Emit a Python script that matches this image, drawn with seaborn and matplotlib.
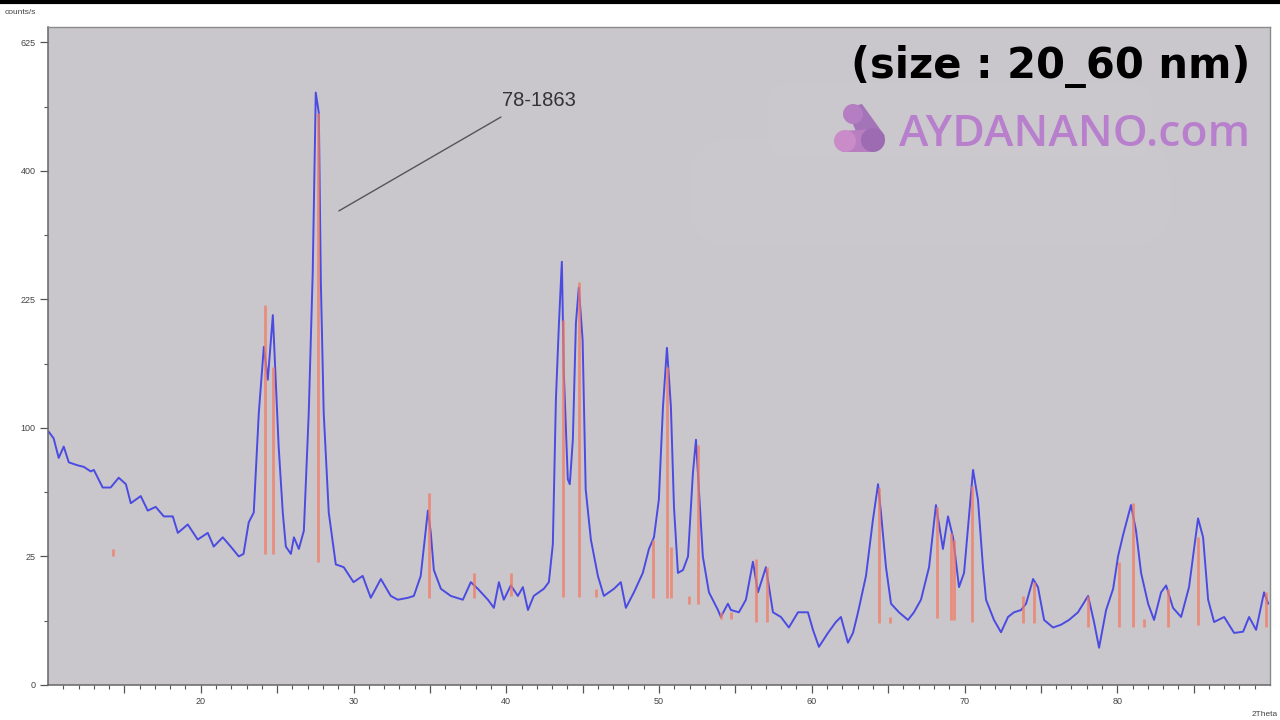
import numpy as np
import pandas as pd
import matplotlib
matplotlib.use("Agg")
import matplotlib.pyplot as plt
import seaborn as sns
from matplotlib.patches import Circle, Polygon, FancyBboxPatch
from matplotlib.lines import Line2D

# ---------------- data ----------------
theta = [10.05, 10.37, 10.7, 11.03, 11.36, 11.94, 12.34, 12.8, 13.0, 13.58, 14.1, 14.63, 15.1, 15.42,
         16.07, 16.53, 17.05, 17.58, 18.17, 18.5, 19.15, 19.8, 20.46, 20.85, 21.44, 21.96, 22.49, 22.8,
         23.14, 23.47, 23.8, 24.13, 24.39, 24.72, 24.91, 25.1, 25.37, 25.57, 25.9, 26.1, 26.42, 26.75,
         27.07, 27.33, 27.53, 27.73, 27.86, 28.05, 28.38, 28.84, 29.36, 30.0, 30.6, 31.13, 31.79, 32.44,
         32.9, 33.56, 33.95, 34.4, 34.87, 35.06, 35.26, 35.72, 36.37, 37.16, 37.68, 38.14, 38.8, 39.19,
         39.52, 39.84, 40.3, 40.76, 41.09, 41.42, 41.8, 42.46, 42.79, 43.05, 43.25, 43.45, 43.64, 43.77,
         44.03, 44.16, 44.36, 44.56, 44.75, 45.0, 45.2, 45.54, 46.0, 46.39, 47.05, 47.5, 47.83, 48.36,
         48.94, 49.34, 49.67, 49.99, 50.26, 50.52, 50.78, 50.98, 51.24, 51.57, 51.9, 52.22, 52.42, 52.61,
         52.87, 53.27, 53.86, 54.05, 54.51, 54.71, 55.23, 55.69, 56.15, 56.48, 57.0, 57.46, 57.98, 58.5,
         59.1, 59.75, 60.08, 60.47, 61.06, 61.58, 61.91, 62.37, 62.7, 63.03, 63.55, 64.0, 64.34, 64.53,
         64.86, 65.19, 65.71, 66.3, 66.69, 67.15, 67.68, 68.13, 68.59, 68.92, 69.25, 69.64, 69.97, 70.56,
         70.88, 71.21, 71.41, 71.93, 72.39, 72.85, 73.24, 73.7, 74.03, 74.49, 74.81, 75.21, 75.8, 76.32,
         76.84, 77.43, 78.09, 78.48, 78.81, 79.27, 79.73, 80.05, 80.38, 80.9, 81.23, 81.56, 82.02, 82.41,
         82.87, 83.2, 83.65, 84.18, 84.7, 85.29, 85.62, 85.95, 86.34, 87.0, 87.65, 88.24, 88.63, 89.09,
         89.61, 89.88]
counts = [97, 92, 78, 86, 75, 73, 72, 69, 70, 59, 59, 65, 61, 50,
          54, 46, 48, 43, 43, 35, 39, 32, 35, 29, 33, 29, 25, 26,
          40, 45, 112, 173, 141, 207, 141, 86, 45, 29, 26, 33, 28, 36,
          112, 257, 531, 495, 248, 112, 45, 22, 21, 16, 18, 11.5, 17, 12,
          11, 11.5, 12, 18, 46, 35, 20, 14, 12, 11, 16, 14, 11, 9,
          16, 11, 15, 12, 14.5, 8.5, 12, 14, 16, 30, 123, 198, 271, 147,
          64, 61, 91, 198, 239, 180, 58, 32, 18, 12, 14, 16, 9, 13,
          19, 28, 33, 52, 117, 172, 117, 48, 19, 20, 25, 68, 91, 58,
          25, 13, 8.5, 7, 10, 8.5, 8, 11, 23, 13, 21, 8, 7, 5,
          8, 8, 4.6, 2.2, 4.1, 6, 7, 2.7, 4.1, 8, 18, 41, 61, 45,
          21, 10, 8, 6.4, 8, 11, 21, 49, 28, 43, 33, 14.5, 19, 70,
          52, 21, 11, 6.4, 4.2, 7, 8, 8.5, 10, 17, 14.5, 6.4, 5, 5.5,
          6.4, 8, 12, 6, 2.1, 8.5, 14, 25, 34, 49, 36, 19, 10, 6.4,
          13, 15, 9, 7, 14.5, 42, 33, 11, 6, 7, 4.1, 4.3, 7, 4.6,
          13, 10]

# reference card 78-1863 sticks
stick_pos = [14.24, 24.2, 24.75, 27.66, 34.93, 37.9, 40.3, 43.7, 44.75, 45.9, 49.6, 50.5, 50.8,
             51.95, 52.55, 54.05, 54.7, 56.35, 57.1, 64.4, 65.1, 68.2, 69.1, 69.3, 70.5, 73.83,
             74.55, 78.1, 80.1, 81.0, 81.75, 83.3, 85.3, 89.75]
stick_base = [25, 26, 26, 23, 11.5, 11.5, 12, 11.7, 11.7, 11.7, 11.5, 11.5, 11.5,
              10, 10, 6.5, 6.5, 6, 6, 5.8, 5.8, 6.8, 6.4, 6.4, 6, 5.8,
              5.8, 5.1, 5.1, 5.1, 5.1, 5.1, 5.5, 5.1]
stick_top = [28, 219, 153, 495, 56, 19, 19, 202, 246, 14, 32, 153, 29,
             12, 87, 8, 8, 24, 21, 59, 7, 48, 35, 32, 60, 12,
             16, 12, 23, 50, 6.5, 14, 33, 13]

x_ticks = [20, 30, 40, 50, 60, 70, 80]
y_ticks = [0, 25, 100, 225, 400, 625]
card_label = "78-1863"

# ---------------- style ----------------
sns.set_theme(style="ticks")
plt.rcParams['font.family'] = ['Liberation Sans', 'DejaVu Sans']

fig = plt.figure(figsize=(12.8, 7.2), dpi=100, facecolor="white")
ax = fig.add_axes([48/1280, 35/720, (1270-48)/1280, (685-27)/720])
ax.set_facecolor("#c9c7cc")

ax.set_yscale("function", functions=(lambda v: np.sqrt(np.clip(v, 0, None)), lambda v: np.square(v)))

df = pd.DataFrame({"theta": theta, "counts": counts})
sns.lineplot(data=df, x="theta", y="counts", ax=ax, color="#4b4be2", lw=1.4,
             estimator=None, sort=False, zorder=2)
ax.vlines(stick_pos, stick_base, stick_top, colors="#f27a62", lw=2.0, alpha=0.75, zorder=3)

ax.set_xlim(10, 90)
ax.set_ylim(0, 655)

# annotation for reference card
ax.plot([29.04, 39.65], [340, 488], color="#555555", lw=1.0, zorder=4)
ax.text(39.75, 516, card_label, fontsize=14.5, color="#333333", va="center", ha="left")

ax.set_xticks(list(range(15, 90, 5)))
ax.set_xticklabels([str(t) if t in x_ticks else "" for t in range(15, 90, 5)])
ax.set_xticks(list(range(11, 90)), minor=True)
ax.set_yticks(y_ticks)
ax.set_yticklabels([str(v) for v in y_ticks])
ax.set_yticks([6.25, 56.25, 156.25, 306.25, 506.25], minor=True)
ax.tick_params(axis="both", which="major", direction="out", length=6, width=0.9,
               color="#555555", labelsize=6.5, labelcolor="#444444", pad=3)
ax.tick_params(axis="both", which="minor", direction="out", length=3, width=0.8, color="#555555")
ax.set_xlabel("")
ax.set_ylabel("")
for s in ["left", "bottom"]:
    ax.spines[s].set_color("#666666")
    ax.spines[s].set_linewidth(1.1)
for s in ["top", "right"]:
    ax.spines[s].set_visible(True)
    ax.spines[s].set_color("#8a8a8a")
    ax.spines[s].set_linewidth(1.0)

fig.text(5/1280, 1 - 12/720, "counts/s", fontsize=6, color="#444444", va="center", ha="left")
fig.text(1278/1280, 1 - 715/720, "2Theta", fontsize=6, color="#444444", va="center", ha="right")
fig.add_artist(Line2D([0, 1], [0.997, 0.997], color="black", lw=3, transform=fig.transFigure))

# ---------------- overlay: watermark ----------------
ov = fig.add_axes([0, 0, 1, 1], zorder=5)
ov.set_xlim(0, 1280)
ov.set_ylim(720, 0)
ov.axis("off")
ov.patch.set_alpha(0)

ov.add_patch(FancyBboxPatch((700, 150), 460, 85, boxstyle="round,pad=10,rounding_size=40",
                            fc="white", ec="none", alpha=0.035))
ov.add_patch(FancyBboxPatch((775, 90), 370, 60, boxstyle="round,pad=8,rounding_size=30",
                            fc="white", ec="none", alpha=0.03))

ov.text(1250, 67, "(size : 20_60 nm)", fontsize=30, fontweight="bold", color="black",
        ha="right", va="center", family=["DejaVu Sans"])

# logo icon
ov.add_patch(Polygon([[846, 108], [862, 104], [885, 136], [864, 150]], closed=True,
                     fc="#a474b8", ec="none"))
ov.add_patch(Polygon([[842, 131], [873, 129], [873, 152], [842, 152]], closed=True,
                     fc="#b77fc0", ec="none"))
ov.add_patch(Circle((853, 114), 10, fc="#b57dc2", ec="none"))
ov.add_patch(Circle((845, 141), 11, fc="#c98cc9", ec="none"))
ov.add_patch(Circle((873, 140), 12, fc="#9c6bb2", ec="none"))

ov.text(1250, 135, "AYDANANO.com", fontsize=32, color="#b880cc", ha="right", va="center",
        family=["Open Sans", "DejaVu Sans"], fontweight="semibold")

fig.savefig("out.png", dpi=100, facecolor="white")
